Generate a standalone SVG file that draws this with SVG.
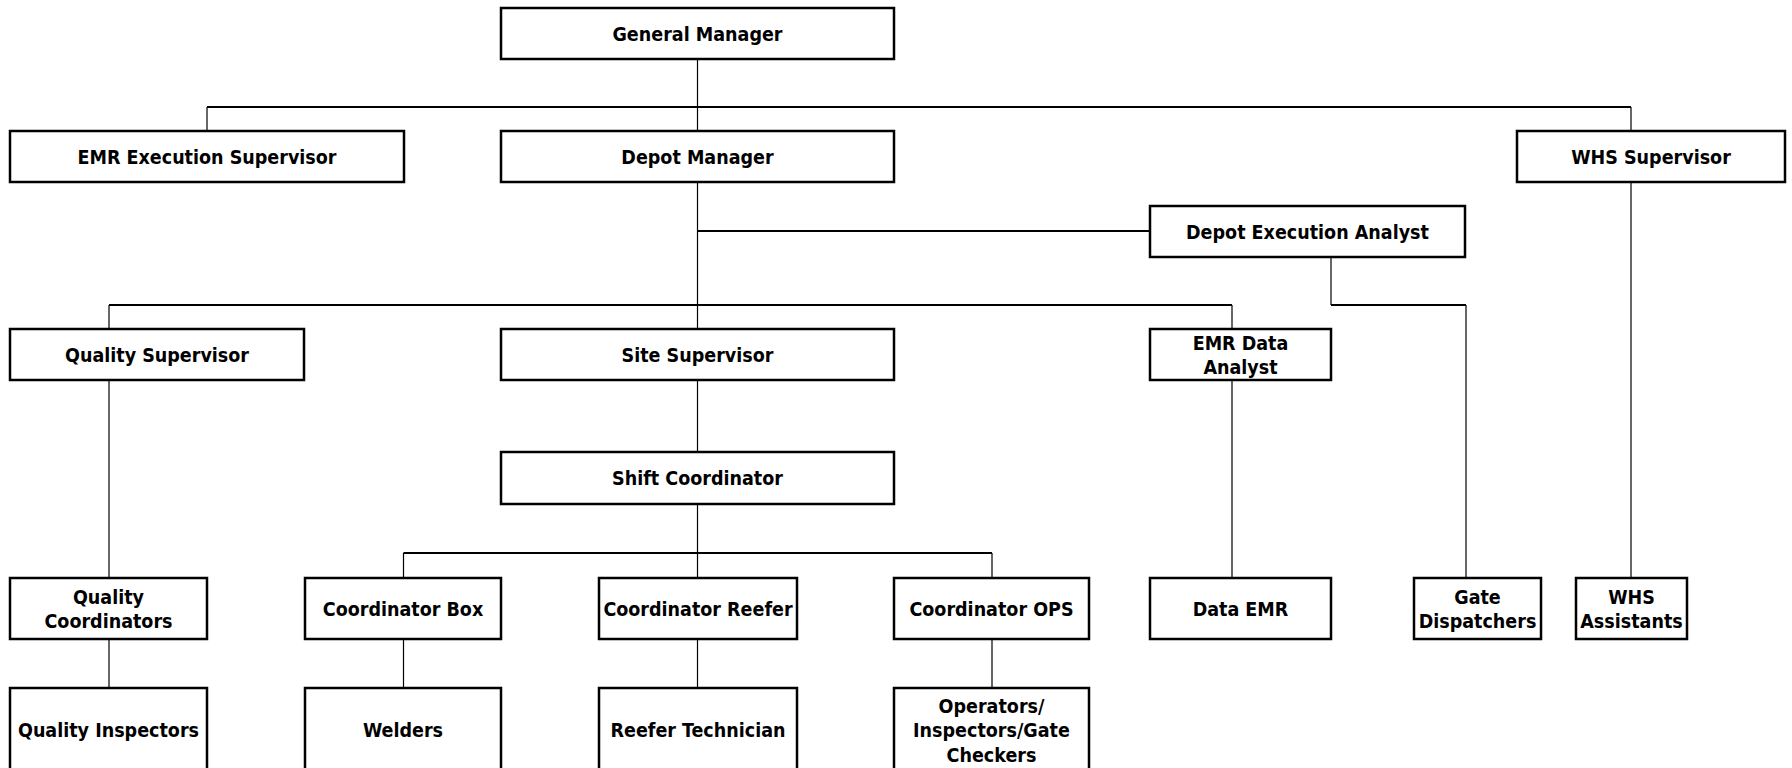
<svg xmlns="http://www.w3.org/2000/svg" width="1792" height="768" viewBox="0 0 1792 768">
  <style>
    .box { fill: #ffffff; stroke: #000000; stroke-width: 2.5; }
    .lbl { font-family: "DejaVu Sans Condensed", "DejaVu Sans", "Liberation Sans", sans-serif; font-stretch: condensed; font-weight: bold; font-size: 19.5px; fill: #000000; text-anchor: middle; }
    .h { stroke: #000000; stroke-width: 2; fill: none; }
    .v { stroke: #000000; stroke-width: 1.2; fill: none; }
  </style>
  <rect x="0" y="0" width="1792" height="768" fill="#ffffff"/>

  <!-- reporting lines -->
  <g id="connectors">
    <!-- General Manager to tier 2 -->
    <line class="v" x1="697.5" y1="59" x2="697.5" y2="131"/>
    <line class="h" x1="207" y1="107" x2="1631" y2="107"/>
    <line class="v" x1="207" y1="107" x2="207" y2="131"/>
    <line class="v" x1="1631" y1="107" x2="1631" y2="131"/>
    <!-- Depot Manager trunk -->
    <line class="v" x1="697.5" y1="182" x2="697.5" y2="329"/>
    <line class="h" x1="697.5" y1="231" x2="1150" y2="231"/>
    <line class="h" x1="109" y1="305" x2="1232" y2="305"/>
    <line class="v" x1="109" y1="305" x2="109" y2="329"/>
    <line class="v" x1="1232" y1="305" x2="1232" y2="329"/>
    <!-- Depot Execution Analyst to Gate Dispatchers -->
    <line class="v" x1="1331" y1="257" x2="1331" y2="305"/>
    <line class="h" x1="1331" y1="305" x2="1466" y2="305"/>
    <line class="v" x1="1466" y1="305" x2="1466" y2="578"/>
    <!-- long drops -->
    <line class="v" x1="109" y1="380" x2="109" y2="578"/>
    <line class="v" x1="1232" y1="380" x2="1232" y2="578"/>
    <line class="v" x1="1631" y1="182" x2="1631" y2="578"/>
    <!-- Site Supervisor to Shift Coordinator -->
    <line class="v" x1="697.5" y1="380" x2="697.5" y2="452"/>
    <!-- Shift Coordinator to coordinators -->
    <line class="v" x1="697.5" y1="504" x2="697.5" y2="578"/>
    <line class="h" x1="403.5" y1="553" x2="992" y2="553"/>
    <line class="v" x1="403.5" y1="553" x2="403.5" y2="578"/>
    <line class="v" x1="992" y1="553" x2="992" y2="578"/>
    <!-- coordinators to teams -->
    <line class="v" x1="109" y1="639" x2="109" y2="688"/>
    <line class="v" x1="403.5" y1="639" x2="403.5" y2="688"/>
    <line class="v" x1="697.5" y1="639" x2="697.5" y2="688"/>
    <line class="v" x1="992" y1="639" x2="992" y2="688"/>
  </g>

  <g id="general-manager">
    <rect class="box" x="501" y="8" width="393" height="51"/>
    <text class="lbl" x="697.5" y="40.5">General Manager</text>
  </g>

  <g id="emr-execution-supervisor">
    <rect class="box" x="10" y="131" width="394" height="51"/>
    <text class="lbl" x="207" y="163.5">EMR Execution Supervisor</text>
  </g>
  <g id="depot-manager">
    <rect class="box" x="501" y="131" width="393" height="51"/>
    <text class="lbl" x="697.5" y="163.5">Depot Manager</text>
  </g>
  <g id="whs-supervisor">
    <rect class="box" x="1517" y="131" width="268" height="51"/>
    <text class="lbl" x="1651" y="163.5">WHS Supervisor</text>
  </g>

  <g id="depot-execution-analyst">
    <rect class="box" x="1150" y="206" width="315" height="51"/>
    <text class="lbl" x="1307.5" y="238.5">Depot Execution Analyst</text>
  </g>

  <g id="quality-supervisor">
    <rect class="box" x="10" y="329" width="294" height="51"/>
    <text class="lbl" x="157" y="361.5">Quality Supervisor</text>
  </g>
  <g id="site-supervisor">
    <rect class="box" x="501" y="329" width="393" height="51"/>
    <text class="lbl" x="697.5" y="361.5">Site Supervisor</text>
  </g>
  <g id="emr-data-analyst">
    <rect class="box" x="1150" y="329" width="181" height="51"/>
    <text class="lbl" x="1240.5" y="349.5">EMR Data</text>
    <text class="lbl" x="1240.5" y="373.5">Analyst</text>
  </g>

  <g id="shift-coordinator">
    <rect class="box" x="501" y="452" width="393" height="52"/>
    <text class="lbl" x="697.5" y="485">Shift Coordinator</text>
  </g>

  <g id="quality-coordinators">
    <rect class="box" x="10" y="578" width="197" height="61"/>
    <text class="lbl" x="108.5" y="603.5">Quality</text>
    <text class="lbl" x="108.5" y="627.5">Coordinators</text>
  </g>
  <g id="coordinator-box">
    <rect class="box" x="305" y="578" width="196" height="61"/>
    <text class="lbl" x="403" y="615.5">Coordinator Box</text>
  </g>
  <g id="coordinator-reefer">
    <rect class="box" x="599" y="578" width="198" height="61"/>
    <text class="lbl" x="698" y="615.5">Coordinator Reefer</text>
  </g>
  <g id="coordinator-ops">
    <rect class="box" x="894" y="578" width="195" height="61"/>
    <text class="lbl" x="991.5" y="615.5">Coordinator OPS</text>
  </g>
  <g id="data-emr">
    <rect class="box" x="1150" y="578" width="181" height="61"/>
    <text class="lbl" x="1240.5" y="615.5">Data EMR</text>
  </g>
  <g id="gate-dispatchers">
    <rect class="box" x="1414" y="578" width="127" height="61"/>
    <text class="lbl" x="1477.5" y="603.5">Gate</text>
    <text class="lbl" x="1477.5" y="627.5">Dispatchers</text>
  </g>
  <g id="whs-assistants">
    <rect class="box" x="1576" y="578" width="111" height="61"/>
    <text class="lbl" x="1631.5" y="603.5">WHS</text>
    <text class="lbl" x="1631.5" y="627.5">Assistants</text>
  </g>

  <g id="quality-inspectors">
    <rect class="box" x="10" y="688" width="197" height="86"/>
    <text class="lbl" x="108.5" y="737">Quality Inspectors</text>
  </g>
  <g id="welders">
    <rect class="box" x="305" y="688" width="196" height="86"/>
    <text class="lbl" x="403" y="737">Welders</text>
  </g>
  <g id="reefer-technician">
    <rect class="box" x="599" y="688" width="198" height="86"/>
    <text class="lbl" x="698" y="737">Reefer Technician</text>
  </g>
  <g id="operators-inspectors-gate-checkers">
    <rect class="box" x="894" y="688" width="195" height="86"/>
    <text class="lbl" x="991.5" y="712.5">Operators/</text>
    <text class="lbl" x="991.5" y="737">Inspectors/Gate</text>
    <text class="lbl" x="991.5" y="761.5">Checkers</text>
  </g>
</svg>
